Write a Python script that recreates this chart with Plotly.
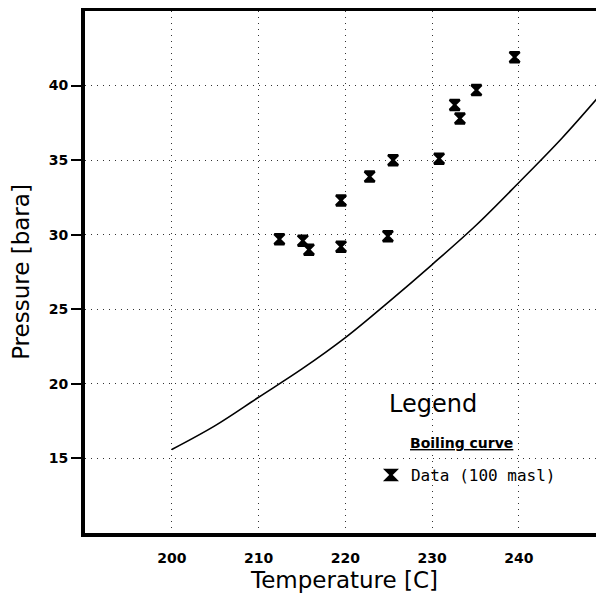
import plotly.graph_objects as go

# Boiling curve
curve_temp = [200, 205, 210, 215, 220, 225, 230, 235, 240, 245, 250]
curve_pres = [15.6, 17.2, 19.1, 21.0, 23.1, 25.5, 28.0, 30.6, 33.5, 36.5, 39.8]

# Measured data (100 masl)
data_temp = [212.4, 215.1, 215.8, 219.5, 219.5, 222.8, 224.9, 225.5, 230.8, 232.6, 233.2, 235.1, 239.5]
data_pres = [29.7, 29.6, 29.0, 29.2, 32.3, 33.9, 29.9, 35.0, 35.1, 38.7, 37.8, 39.7, 41.9]

x_ticks = [200, 210, 220, 230, 240]
y_ticks = [15, 20, 25, 30, 35, 40]

FONT = "DejaVu Sans"

fig = go.Figure()
fig.add_trace(go.Scatter(
    x=curve_temp, y=curve_pres, mode="lines", line=dict(color="black", width=1.6, shape="spline"),
    name="Boiling curve", showlegend=False, hoverinfo="skip"))
fig.add_trace(go.Scatter(
    x=data_temp, y=data_pres, mode="markers", name="Data (100 masl)",
    marker=dict(symbol="hourglass", size=10, color="black", line=dict(color="black", width=2.5))))

fig.update_layout(
    width=596, height=585,
    margin=dict(l=77, r=0, t=3, b=60),
    paper_bgcolor="white", plot_bgcolor="white",
    font=dict(family=FONT, color="black"),
    showlegend=True,
    legend=dict(x=0.551, xanchor="left", y=0.111, yanchor="middle",
                bgcolor="rgba(0,0,0,0)", font=dict(family="DejaVu Sans Mono", size=16, color="black"),
                itemwidth=30),
    xaxis=dict(range=[190, 249.8], tickvals=x_ticks, ticktext=[str(v) for v in x_ticks],
               showgrid=True, gridcolor="#333333", griddash="1px,5px", gridwidth=1,
               showline=True, linecolor="black", linewidth=4, mirror=True,
               ticks="", ticklabelstandoff=9,
               tickfont=dict(family=FONT, size=14, color="black", weight="bold"),
               title=dict(text="Temperature [C]", font=dict(family=FONT, size=23, color="black"), standoff=9),
               zeroline=False, automargin=False),
    yaxis=dict(range=[10, 45], tickvals=y_ticks, ticktext=[str(v) for v in y_ticks],
               showgrid=True, gridcolor="#333333", griddash="1px,5px", gridwidth=1,
               showline=True, linecolor="black", linewidth=4, mirror=False,
               ticks="outside", ticklen=10, tickwidth=2, tickcolor="black",
               tickfont=dict(family=FONT, size=14, color="black", weight="bold"),
               title=dict(text="Pressure [bara]", font=dict(family=FONT, size=23, color="black"), standoff=14),
               zeroline=False, automargin=False),
)

fig.add_annotation(x=0.582, y=0.247, xref="paper", yref="paper", xanchor="left", yanchor="middle",
                   text="Legend", showarrow=False, font=dict(family=FONT, size=24, color="black"))
fig.add_annotation(x=0.622, y=0.172, xref="paper", yref="paper", xanchor="left", yanchor="middle",
                   text="<b><u>Boiling curve</u></b>", showarrow=False,
                   font=dict(family=FONT, size=14, color="black"))

fig.write_html("out.html")
